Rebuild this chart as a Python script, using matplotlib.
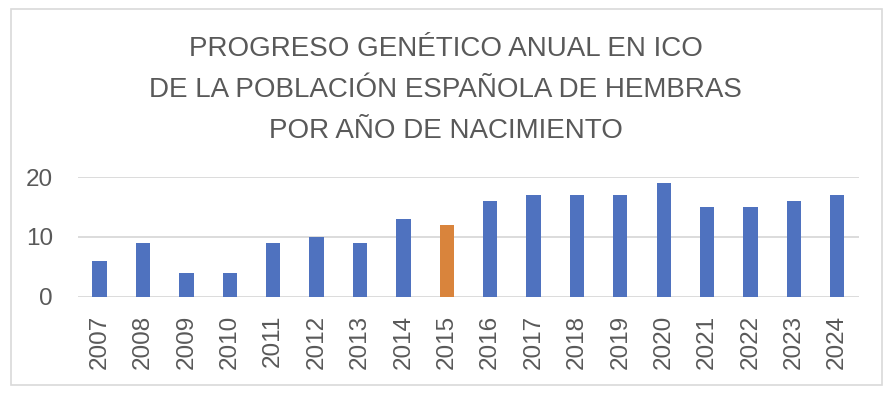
import matplotlib.pyplot as plt
from matplotlib.patches import Rectangle

years = [str(y) for y in range(2007, 2025)]
values = [6, 9, 4, 4, 9, 10, 9, 13, 12, 16, 17, 17, 17, 19, 15, 15, 16, 17]
highlight_year = "2015"

blue = "#4F72BF"
orange = "#D9843C"
txt = "#595959"

plt.rcParams['font.family'] = ['Liberation Sans', 'DejaVu Sans']

fig = plt.figure(figsize=(8.91, 3.93), dpi=100, facecolor='white')
ax = fig.add_axes([0.0875, 0.2443, 0.8765, 0.3053])

colors = [orange if y == highlight_year else blue for y in years]
ax.bar(range(len(years)), values, width=0.33, color=colors, zorder=3)

ax.set_xlim(-0.5, len(years) - 0.5)
ax.set_ylim(0, 20)
ax.set_yticks([0, 10, 20])
ax.set_xticks(range(len(years)))
ax.set_xticklabels(years, rotation=90)
ax.tick_params(axis='both', length=0, labelsize=17.5, colors=txt)
ax.tick_params(axis='y', pad=18)
ax.tick_params(axis='x', pad=13)
ax.yaxis.grid(True, color='#D9D9D9', linewidth=1.3, zorder=0)
for s in ax.spines.values():
    s.set_visible(False)
ax.set_facecolor('none')

# title block, three lines
fig.text(0.5, 0.772, "PROGRESO GENÉTICO ANUAL EN ICO\nDE LA POBLACIÓN ESPAÑOLA DE HEMBRAS\nPOR AÑO DE NACIMIENTO",
         ha='center', va='center', fontsize=20, color=txt, linespacing=1.75)

fig.patches.append(Rectangle((0.0123, 0.0204), 0.9776, 0.957, transform=fig.transFigure,
                             fill=False, edgecolor='#D9D9D9', linewidth=1.2))

fig.savefig("out.png", dpi=100)
